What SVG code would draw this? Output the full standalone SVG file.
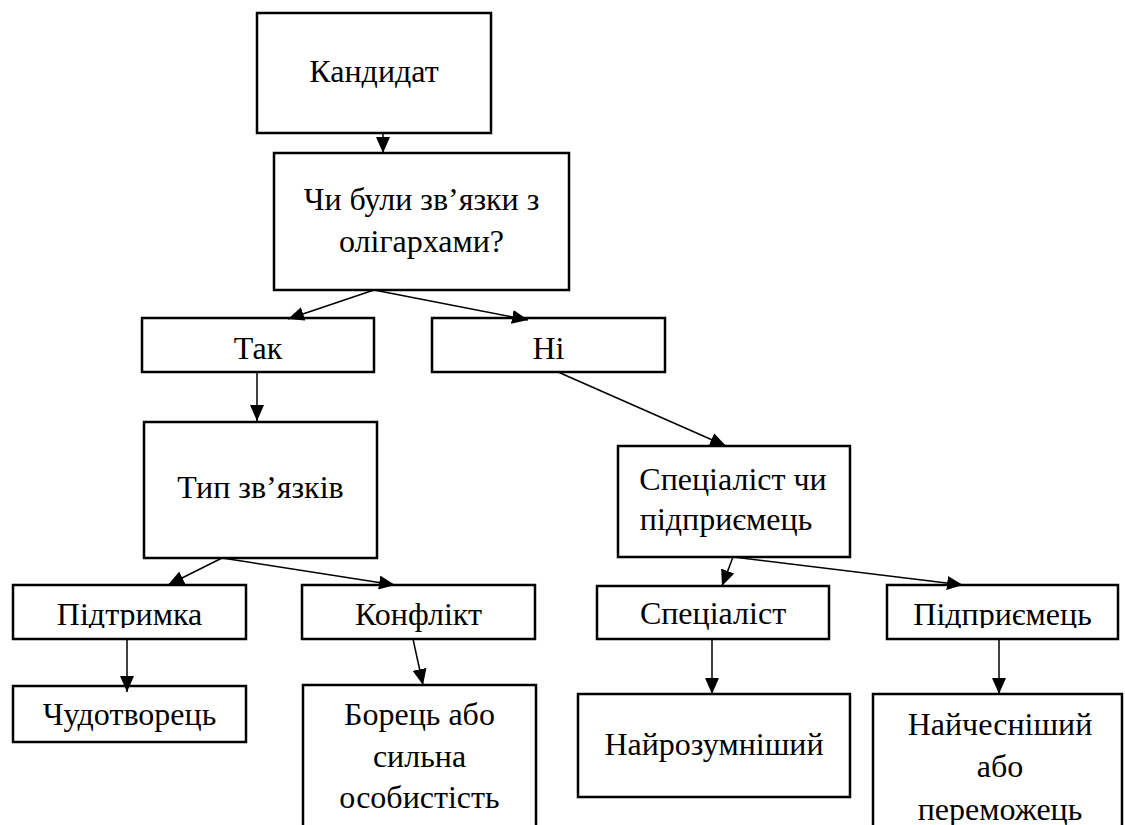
<svg xmlns="http://www.w3.org/2000/svg" width="1125" height="825" viewBox="0 0 1125 825">
<style>
.box{fill:#fff;stroke:#000;stroke-width:2.5}
.t{font-family:'Liberation Serif','DejaVu Serif',serif;font-size:32px;fill:#000;text-anchor:middle}
.c{stroke:#000;stroke-width:1.5;fill:none;marker-end:url(#ah)}
</style>
<defs>
<marker id="ah" markerUnits="userSpaceOnUse" markerWidth="17" markerHeight="14" refX="16" refY="7" orient="auto">
<path d="M0,0 L16,7 L0,14 z" fill="#000"/>
</marker>
<clipPath id="clipRow"><rect x="0" y="570" width="1125" height="58"/></clipPath>
</defs>
<rect width="1125" height="825" fill="#fff"/>
<g id="n1"><rect class="box" x="257" y="13" width="234" height="120"/><text class="t" x="374" y="82">Кандидат</text></g>
<g id="n2"><rect class="box" x="274" y="153" width="295" height="137"/><text class="t" x="421.5" y="210">Чи були зв’язки з</text><text class="t" x="421.5" y="252">олігархами?</text></g>
<g id="n3"><rect class="box" x="142" y="318" width="232" height="54"/><text class="t" x="258" y="359">Так</text></g>
<g id="n4"><rect class="box" x="432" y="318" width="233" height="54"/><text class="t" x="548.5" y="359">Ні</text></g>
<g id="n5"><rect class="box" x="144" y="422" width="233" height="136"/><text class="t" x="260.5" y="498">Тип зв’язків</text></g>
<g id="n6"><rect class="box" x="618" y="446" width="232" height="111"/><text class="t" x="733" y="490">Спеціаліст чи</text><text class="t" x="726" y="530">підприємець</text></g>
<g id="n7"><rect class="box" x="13" y="585" width="233" height="54"/><text class="t" x="129.5" y="625" clip-path="url(#clipRow)">Підтримка</text></g>
<g id="n8"><rect class="box" x="302" y="585" width="233" height="54"/><text class="t" x="418.5" y="625">Конфлікт</text></g>
<g id="n9"><rect class="box" x="597" y="586" width="232" height="53"/><text class="t" x="713" y="624">Спеціаліст</text></g>
<g id="n10"><rect class="box" x="887" y="585" width="231" height="54"/><text class="t" x="1002.5" y="625" clip-path="url(#clipRow)">Підприємець</text></g>
<g id="n11"><rect class="box" x="13" y="686" width="233" height="56"/><text class="t" x="129.5" y="725">Чудотворець</text></g>
<g id="n12"><rect class="box" x="303" y="685" width="233" height="160"/><text class="t" x="419.5" y="725">Борець або</text><text class="t" x="419.5" y="767">сильна</text><text class="t" x="419.5" y="808">особистість</text></g>
<g id="n13"><rect class="box" x="578" y="694" width="272" height="103"/><text class="t" x="714" y="755">Найрозумніший</text></g>
<g id="n14"><rect class="box" x="873" y="694" width="249" height="160"/><text class="t" x="1000" y="735">Найчесніший</text><text class="t" x="1000" y="777">або</text><text class="t" x="1000" y="820">переможець</text></g>
<g id="connectors">
<line class="c" x1="383" y1="133" x2="383" y2="153"/>
<line class="c" x1="374" y1="290" x2="288" y2="319"/>
<line class="c" x1="374" y1="290" x2="528" y2="320"/>
<line class="c" x1="257" y1="372" x2="257" y2="421"/>
<line class="c" x1="558" y1="372" x2="726" y2="446"/>
<line class="c" x1="222" y1="558" x2="168" y2="585"/>
<line class="c" x1="222" y1="558" x2="395" y2="585"/>
<line class="c" x1="733" y1="557" x2="722" y2="586"/>
<line class="c" x1="733" y1="557" x2="963" y2="585"/>
<line class="c" x1="127" y1="639" x2="127" y2="692"/>
<line class="c" x1="413" y1="639" x2="423" y2="685"/>
<line class="c" x1="712" y1="639" x2="712" y2="694"/>
<line class="c" x1="999" y1="639" x2="999" y2="694"/>
</g>
</svg>
